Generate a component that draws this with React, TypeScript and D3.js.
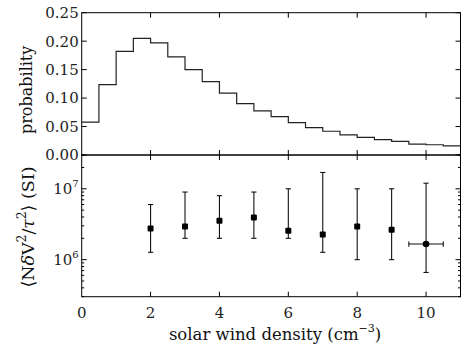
import { useRef, useEffect } from 'react'
import * as d3 from 'd3'

// histogram (bin left edges, probability)
const binStarts = [0, 0.5, 1, 1.5, 2, 2.5, 3, 3.5, 4, 4.5, 5, 5.5, 6, 6.5, 7, 7.5, 8, 8.5, 9, 9.5, 10, 10.5]
const probs = [0.0576, 0.1238, 0.1819, 0.2048, 0.197, 0.1725, 0.150, 0.129, 0.1086, 0.0903, 0.0775, 0.0675,
  0.0569, 0.048, 0.0417, 0.0352, 0.031, 0.027, 0.024, 0.019, 0.018, 0.016]

// binned means with error bars
const density = [2, 3, 4, 5, 6, 7, 8, 9, 10]
const meanVal = [2.76e6, 2.94e6, 3.54e6, 3.95e6, 2.56e6, 2.27e6, 2.94e6, 2.65e6, 1.66e6]
const upperVal = [6e6, 9e6, 8e6, 9e6, 1e7, 1.7e7, 1e7, 1e7, 1.2e7]
const lowerVal = [1.27e6, 2e6, 2e6, 2e6, 2e6, 1.27e6, 1e6, 1e6, 6.6e5]
const xErr = [0, 0, 0, 0, 0, 0, 0, 0, 0.5]

const xTicks = [0, 2, 4, 6, 8, 10]
const probTicks = [0, 0.05, 0.1, 0.15, 0.2, 0.25]
const logMajor = [1e6, 1e7]

const FONT = "'DejaVu Serif'"

export default function App() {
  const ref = useRef<SVGSVGElement | null>(null)

  useEffect(() => {
    if (!ref.current) return
    const svg = d3.select(ref.current)
    svg.selectAll('*').remove()

    const left = 81.7, right = 460.5
    const top1 = 12.7, mid = 155, bot = 296.7

    const x = d3.scaleLinear().domain([0, 11]).range([left, right])
    const yp = d3.scaleLinear().domain([0, 0.25]).range([mid, top1])
    const yl = d3.scaleLog().domain([3e5, 3e7]).range([bot, mid])

    // histogram
    const pts: [number, number][] = binStarts.map((b, i) => [b, probs[i]])
    pts.push([11, probs[probs.length - 1]])
    const step = d3.line<[number, number]>().x(d => x(d[0])).y(d => yp(d[1])).curve(d3.curveStepAfter)
    svg.append('path').datum(pts).attr('d', step)
      .attr('fill', 'none').attr('stroke', '#222').attr('stroke-width', 1.2)

    // error bars
    const cap = 2.6
    density.forEach((d, i) => {
      const cx = x(d), cy = yl(meanVal[i])
      const g = svg.append('g').attr('stroke', '#111').attr('stroke-width', 1.1)
      g.append('line').attr('x1', cx).attr('x2', cx).attr('y1', yl(upperVal[i])).attr('y2', yl(lowerVal[i]))
      g.append('line').attr('x1', cx - cap).attr('x2', cx + cap).attr('y1', yl(upperVal[i])).attr('y2', yl(upperVal[i]))
      g.append('line').attr('x1', cx - cap).attr('x2', cx + cap).attr('y1', yl(lowerVal[i])).attr('y2', yl(lowerVal[i]))
      if (xErr[i] > 0) {
        const x0 = x(d - xErr[i]), x1 = x(d + xErr[i])
        g.append('line').attr('x1', x0).attr('x2', x1).attr('y1', cy).attr('y2', cy)
        g.append('line').attr('x1', x0).attr('x2', x0).attr('y1', cy - cap).attr('y2', cy + cap)
        g.append('line').attr('x1', x1).attr('x2', x1).attr('y1', cy - cap).attr('y2', cy + cap)
        svg.append('circle').attr('cx', cx).attr('cy', cy).attr('r', 3.3).attr('fill', '#000')
      } else {
        svg.append('rect').attr('x', cx - 3).attr('y', cy - 3).attr('width', 6).attr('height', 6)
          .attr('rx', 1).attr('fill', '#000')
      }
    })

    // frames
    const frame = svg.append('g').attr('fill', 'none').attr('stroke', '#000').attr('stroke-width', 1)
    frame.append('rect').attr('x', left).attr('y', top1).attr('width', right - left).attr('height', mid - top1)
    frame.append('rect').attr('x', left).attr('y', mid).attr('width', right - left).attr('height', bot - mid)

    const tk = svg.append('g').attr('stroke', '#000').attr('stroke-width', 1)
    const major = 5, minor = 2.5
    // x ticks on both panels
    xTicks.filter(t => t > 0).forEach(t => {
      const px = x(t)
      ;[[top1, 1], [mid, -1], [mid, 1], [bot, -1]].forEach(([yy, dir]) => {
        tk.append('line').attr('x1', px).attr('x2', px).attr('y1', yy).attr('y2', yy + dir * major)
      })
    })
    // probability ticks
    probTicks.forEach(t => {
      const py = yp(t)
      tk.append('line').attr('x1', left).attr('x2', left + major).attr('y1', py).attr('y2', py)
      tk.append('line').attr('x1', right).attr('x2', right - major).attr('y1', py).attr('y2', py)
    })
    // log ticks
    const logTicks: number[] = []
    ;[1e5, 1e6, 1e7].forEach(dec => {
      for (let k = 1; k < 10; k++) logTicks.push(dec * k)
    })
    logTicks.filter(v => v >= 3e5 && v <= 3e7).forEach(v => {
      const py = yl(v)
      const len = logMajor.includes(v) ? major : minor
      tk.append('line').attr('x1', left).attr('x2', left + len).attr('y1', py).attr('y2', py)
      tk.append('line').attr('x1', right).attr('x2', right - len).attr('y1', py).attr('y2', py)
    })

    // tick labels
    const lab = svg.append('g').style('font-family', FONT).style('font-size', '15px').attr('fill', '#222')
    probTicks.forEach(t => {
      lab.append('text').attr('x', left - 3).attr('y', yp(t)).attr('dy', '0.36em')
        .attr('text-anchor', 'end').text(d3.format('.2f')(t))
    })
    logMajor.forEach(v => {
      const t = lab.append('text').attr('x', left - 3).attr('y', yl(v)).attr('dy', '0.36em')
        .attr('text-anchor', 'end')
      t.append('tspan').text('10')
      t.append('tspan').style('font-size', '10px').attr('dy', '-0.7em').text(String(Math.round(Math.log10(v))))
    })
    xTicks.forEach(t => {
      lab.append('text').attr('x', x(t)).attr('y', 318).attr('text-anchor', 'middle').text(String(t))
    })

    // axis titles
    const xt = svg.append('text').style('font-family', FONT).style('font-size', '16.5px').attr('fill', '#111')
      .attr('x', (left + right) / 2 + 4).attr('y', 340).attr('text-anchor', 'middle')
    xt.append('tspan').text('solar wind density (cm')
    xt.append('tspan').style('font-size', '11px').attr('dy', '-0.7em').text('−3')
    xt.append('tspan').attr('dy', '0.47em').text(')')

    svg.append('text').style('font-family', FONT).style('font-size', '16px').attr('fill', '#111')
      .attr('transform', `translate(32,${(top1 + mid) / 2 + 6}) rotate(-90)`)
      .attr('text-anchor', 'middle').text('probability')

    const yt = svg.append('text').style('font-family', FONT).style('font-size', '17.5px').attr('fill', '#111')
      .attr('transform', `translate(34,${227}) rotate(-90)`).attr('text-anchor', 'middle')
    yt.append('tspan').text('⟨N')
    yt.append('tspan').style('font-style', 'italic').text('δ')
    yt.append('tspan').text('V')
    yt.append('tspan').style('font-size', '12px').attr('dy', '-0.7em').text('2')
    yt.append('tspan').attr('dy', '0.48em').text('/')
    yt.append('tspan').style('font-style', 'italic').text('τ')
    yt.append('tspan').style('font-size', '12px').attr('dy', '-0.7em').text('2')
    yt.append('tspan').attr('dy', '0.48em').text('⟩ (SI)')
  }, [])

  return (
    <svg ref={ref} width={462} height={351}
      style={{ position: 'absolute', left: 0, top: 0, background: '#fff' }} />
  )
}
